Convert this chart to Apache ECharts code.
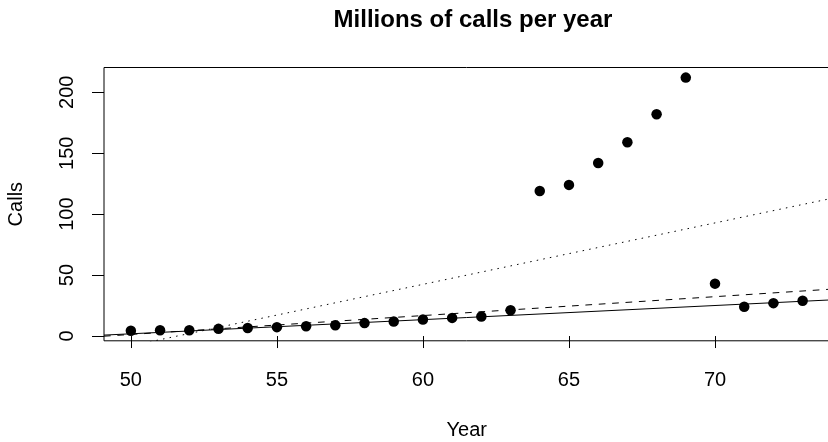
<!DOCTYPE html>
<html>
<head>
<meta charset="utf-8">
<script src="https://cdn.jsdelivr.net/npm/echarts@6/dist/echarts.min.js"></script>
<style>
  html, body { margin: 0; padding: 0; background: #fff; }
  #chart { width: 828px; height: 442px; }
</style>
</head>
<body>
<div id="chart"></div>
<script>
// Belgian phone calls, millions per year (year 19xx)
const years = [50, 51, 52, 53, 54, 55, 56, 57, 58, 59, 60, 61, 62, 63, 64, 65, 66, 67, 68, 69, 70, 71, 72, 73];
const calls = [4.4, 4.7, 4.7, 5.9, 6.6, 7.3, 8.1, 8.8, 10.6, 12.0, 13.5, 14.9, 16.1, 21.2,
               119.0, 124.0, 142.0, 159.0, 182.0, 212.0, 43.0, 24.0, 27.0, 29.0];

// Fitted lines: [intercept, slope]
const fitSolid  = [-56.16, 1.16];
const fitDashed = [-76.2, 1.55];
const fitDotted = [-260.059, 5.041];

const xTicks = [50, 55, 60, 65, 70];
const yTicks = [0, 50, 100, 150, 200];

// Axis ranges padded 4% beyond the data, as in a base plot
const xMin = Math.min(...years), xMax = Math.max(...years);
const yMin = Math.min(...calls), yMax = Math.max(...calls);
const xPad = (xMax - xMin) * 0.04, yPad = (yMax - yMin) * 0.04;
const xLo = xMin - xPad, xHi = xMax + xPad;
const yLo = yMin - yPad, yHi = yMax + yPad;

function fitLine(coef) {
  return [[xLo, coef[0] + coef[1] * xLo], [xHi, coef[0] + coef[1] * xHi]];
}

const FONT = '"Liberation Sans", Arial, Helvetica, sans-serif';

const chart = echarts.init(document.getElementById('chart'), null, { renderer: 'canvas' });

const lineSeries = (data, dash) => ({
  type: 'line',
  data: data,
  symbol: 'none',
  silent: true,
  clip: true,
  animation: false,
  lineStyle: { color: '#000', width: 1, type: dash, opacity: 1 }
});

chart.setOption({
  animation: false,
  backgroundColor: '#fff',
  title: {
    text: 'Millions of calls per year',
    left: 468,
    top: 3,
    textAlign: 'center',
    textStyle: { fontFamily: FONT, fontWeight: 'bold', fontSize: 24, color: '#000' }
  },
  grid: {
    left: 104,
    top: 67.5,
    right: -1.5,
    bottom: 101.2,
    containLabel: false,
    outerBoundsMode: 'none',
    show: true,
    borderColor: '#000',
    borderWidth: 1,
    backgroundColor: 'transparent'
  },
  xAxis: {
    type: 'value',
    min: xLo,
    max: xHi,
    name: 'Year',
    nameLocation: 'middle',
    nameGap: 80,
    nameTextStyle: { fontFamily: FONT, fontSize: 20, color: '#000' },
    axisLine: { show: false },
    splitLine: { show: false },
    axisTick: {
      show: true, inside: false, length: 12,
      customValues: xTicks,
      lineStyle: { color: '#000', width: 1 }
    },
    axisLabel: {
      customValues: xTicks,
      margin: 30,
      fontFamily: FONT, fontSize: 20, color: '#000'
    }
  },
  yAxis: {
    type: 'value',
    min: yLo,
    max: yHi,
    name: 'Calls',
    nameLocation: 'middle',
    nameGap: 78,
    nameRotate: 90,
    nameTextStyle: { fontFamily: FONT, fontSize: 20, color: '#000' },
    axisLine: { show: false },
    splitLine: { show: false },
    axisTick: {
      show: true, inside: false, length: 12,
      customValues: yTicks,
      lineStyle: { color: '#000', width: 1 }
    },
    axisLabel: {
      customValues: yTicks,
      rotate: 90,
      margin: 27,
      fontFamily: FONT, fontSize: 20, color: '#000'
    }
  },
  series: [
    {
      type: 'scatter',
      data: years.map((y, i) => [y, calls[i]]),
      symbol: 'circle',
      symbolSize: 10.5,
      itemStyle: { color: '#000', opacity: 1 },
      silent: true
    },
    lineSeries(fitLine(fitSolid), 'solid'),
    lineSeries(fitLine(fitDashed), [6.7, 6.7]),
    lineSeries(fitLine(fitDotted), [1.5, 5.2])
  ]
});
</script>
</body>
</html>
